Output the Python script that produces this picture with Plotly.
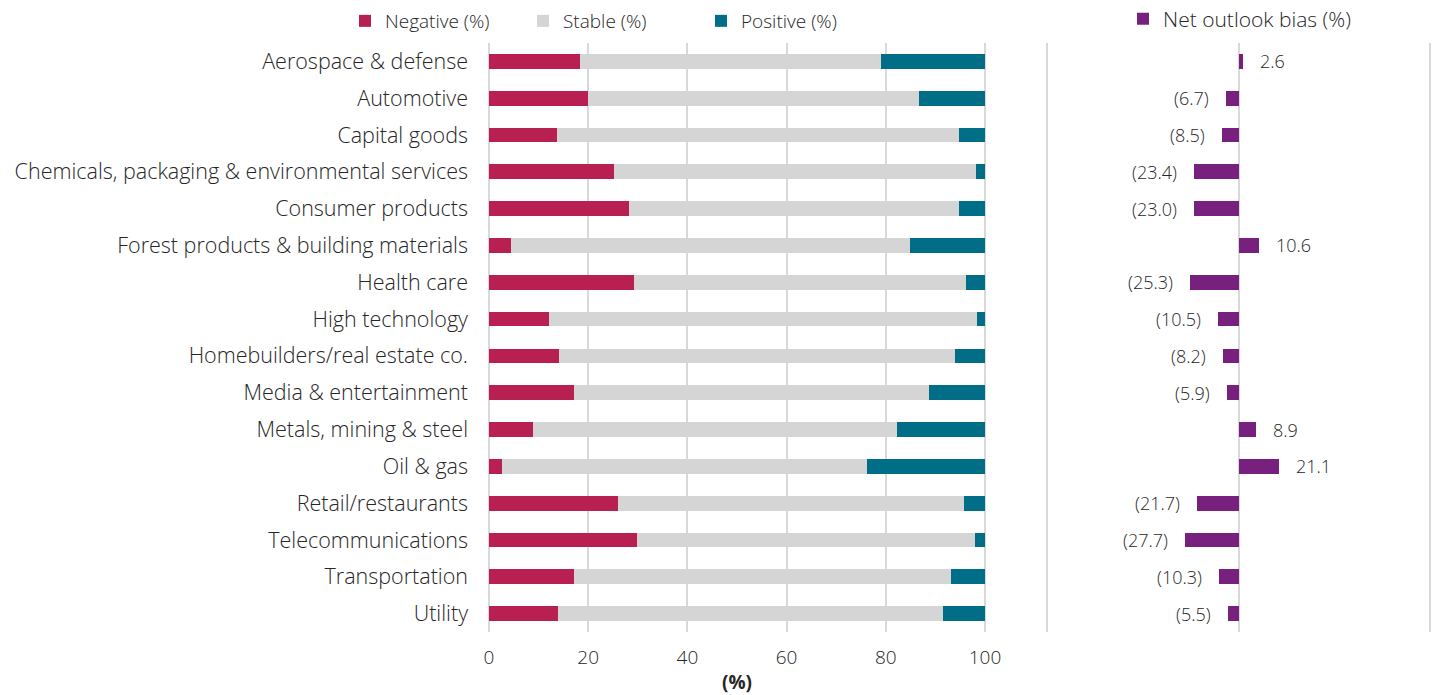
import plotly.graph_objects as go

# Sector outlook distribution (% of issuers) and net outlook bias
sectors = [
    "Aerospace & defense",
    "Automotive",
    "Capital goods",
    "Chemicals, packaging & environmental services",
    "Consumer products",
    "Forest products & building materials",
    "Health care",
    "High technology",
    "Homebuilders/real estate co.",
    "Media & entertainment",
    "Metals, mining & steel",
    "Oil & gas",
    "Retail/restaurants",
    "Telecommunications",
    "Transportation",
    "Utility",
]
negative = [18.4, 20.0, 13.8, 25.2, 28.2, 4.5, 29.2, 12.1, 14.2, 17.1, 8.9, 2.6, 26.0, 29.8, 17.2, 14.0]
positive = [21.0, 13.3, 5.3, 1.8, 5.2, 15.1, 3.9, 1.6, 6.0, 11.2, 17.8, 23.7, 4.3, 2.1, 6.9, 8.5]
stable = [round(100 - n - p, 1) for n, p in zip(negative, positive)]
net_bias = [2.6, -6.7, -8.5, -23.4, -23.0, 10.6, -25.3, -10.5, -8.2, -5.9, 8.9, 21.1, -21.7, -27.7, -10.3, -5.5]
x_ticks = [0, 20, 40, 60, 80, 100]

C_NEG = "#B82052"
C_STA = "#D5D5D5"
C_POS = "#006E87"
C_NET = "#78207D"
GRID = "#D9D9D9"
TXT = "#262626"
FONT = "Open Sans"

fig = go.Figure()
for name, vals, col in [("Negative (%)", negative, C_NEG),
                        ("Stable (%)", stable, C_STA),
                        ("Positive (%)", positive, C_POS)]:
    fig.add_trace(go.Bar(
        y=sectors, x=vals, orientation="h", name=name,
        marker=dict(color=col, line=dict(width=0)),
        xaxis="x", yaxis="y", legend="legend",
        hovertemplate="%{y}: %{x:.1f}%<extra>" + name + "</extra>",
    ))

fig.add_trace(go.Bar(
    y=sectors, x=net_bias, orientation="h", name="Net outlook bias (%)",
    marker=dict(color=C_NET, line=dict(width=0)),
    xaxis="x2", yaxis="y2", legend="legend2",
    hovertemplate="%{y}: %{x:.1f}<extra></extra>",
))

# Value labels for net bias: negatives in parentheses on the left
for s, v in zip(sectors, net_bias):
    label = f"({abs(v):.1f})" if v < 0 else f"{v:.1f}"
    fig.add_annotation(
        x=v, y=s, xref="x2", yref="y2", text=label, showarrow=False,
        xanchor="right" if v < 0 else "left",
        xshift=-15 if v < 0 else 15,
        font=dict(size=18, color=TXT, family=FONT, weight=300),
    )

fig.update_layout(
    width=1440, height=695,
    margin=dict(l=0, r=0, t=0, b=0, autoexpand=False),
    paper_bgcolor="white", plot_bgcolor="white",
    barmode="stack", bargap=0.6,
    font=dict(family=FONT, size=19, color=TXT, weight=300),
    xaxis=dict(
        domain=[487 / 1440, 987 / 1440], range=[-0.4, 100.4],
        tickvals=x_ticks, showgrid=True, gridcolor=GRID, gridwidth=2,
        zeroline=False, showline=False, ticks="", ticklabelstandoff=12,
        tickfont=dict(size=19, color=TXT),
        title=dict(text="<b>(%)</b>", standoff=7, font=dict(size=19, color=TXT)),
        automargin=False, fixedrange=True,
    ),
    yaxis=dict(
        domain=[1 - 632 / 695, 1 - 43 / 695],
        categoryorder="array", categoryarray=sectors, autorange="reversed",
        showgrid=False, zeroline=False, showline=False, ticks="",
        tickfont=dict(size=21.5, color=TXT),
        ticklabelstandoff=18, automargin=False, fixedrange=True,
    ),
    xaxis2=dict(
        domain=[1045 / 1440, 1432 / 1440], range=[-101, 101], anchor="y2",
        tickvals=[-100, 0, 100], showticklabels=False,
        showgrid=True, gridcolor=GRID, gridwidth=2,
        zeroline=True, zerolinecolor=GRID, zerolinewidth=2,
        showline=False, ticks="", automargin=False, fixedrange=True,
    ),
    yaxis2=dict(
        domain=[1 - 632 / 695, 1 - 43 / 695], anchor="x2", matches="y",
        showticklabels=False, showgrid=False, zeroline=False, showline=False,
        ticks="", automargin=False, fixedrange=True,
    ),
    legend=dict(
        orientation="h", x=345 / 1440, xanchor="left",
        y=1 - 21 / 695, yanchor="middle",
        bgcolor="rgba(0,0,0,0)", entrywidth=133, traceorder="normal",
        font=dict(size=19, color=TXT),
    ),
    legend2=dict(
        orientation="h", x=1123 / 1440, xanchor="left",
        y=1 - 19 / 695, yanchor="middle",
        bgcolor="rgba(0,0,0,0)", font=dict(size=21, color=TXT),
    ),
    showlegend=True,
)

fig.write_html("out.html")
